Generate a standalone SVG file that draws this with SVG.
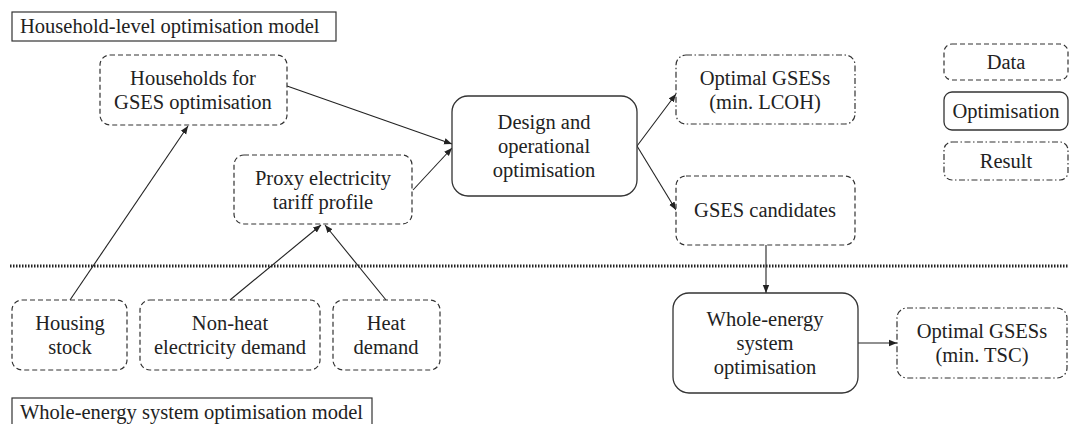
<svg xmlns="http://www.w3.org/2000/svg" width="1070" height="424" viewBox="0 0 1070 424">
  <style>
    text { font-family: 'Liberation Serif', 'Times New Roman', serif; font-size: 20.5px; fill: #222; text-anchor: middle; }
    .title { text-anchor: start; }
    .frame { fill: #fff; stroke: #333; stroke-width: 1.2; }
    .data { fill: #fff; stroke: #333; stroke-width: 1.2; stroke-dasharray: 5 3; }
    .opt { fill: #fff; stroke: #333; stroke-width: 1.3; }
    .result { fill: #fff; stroke: #333; stroke-width: 1.2; stroke-dasharray: 6 2.5 1.5 2.5; }
    .link { fill: none; stroke: #222; stroke-width: 1.1; marker-end: url(#arrow); }
    .divider { fill: none; stroke: #222; stroke-width: 3; stroke-dasharray: 1.5 1.5; }
  </style>
  <defs>
    <marker id="arrow" viewBox="0 0 10 10" refX="10" refY="5" markerWidth="8" markerHeight="8" markerUnits="userSpaceOnUse" orient="auto">
      <path d="M0,1 L10,5 L0,9 z" fill="#222"/>
    </marker>
  </defs>

  <rect width="1070" height="424" fill="#fff"/>

  <!-- divider between the two model levels -->
  <line class="divider" x1="10" y1="266" x2="1068" y2="266"/>

  <!-- connectors -->
  <g id="connectors">
    <line class="link" x1="70" y1="300" x2="188" y2="126"/>
    <line class="link" x1="230" y1="300" x2="321" y2="225"/>
    <line class="link" x1="386" y1="300" x2="325" y2="225"/>
    <line class="link" x1="287" y1="86" x2="452" y2="144"/>
    <line class="link" x1="413" y1="190" x2="452" y2="148"/>
    <line class="link" x1="637" y1="146" x2="676" y2="94"/>
    <line class="link" x1="637" y1="146" x2="676" y2="210"/>
    <line class="link" x1="766" y1="245" x2="766" y2="293"/>
    <line class="link" x1="858" y1="343" x2="897" y2="343"/>
  </g>

  <!-- section titles -->
  <g id="title-household">
    <rect class="frame" x="12" y="12" width="324" height="29"/>
    <text class="title" x="20" y="33">Household-level optimisation model</text>
  </g>
  <g id="title-whole-energy">
    <rect class="frame" x="12" y="398" width="360" height="30"/>
    <text class="title" x="20" y="419">Whole-energy system optimisation model</text>
  </g>

  <!-- household-level nodes -->
  <g id="households">
    <rect class="data" x="100" y="55" width="187" height="70" rx="10"/>
    <text x="193" y="85">Households for</text>
    <text x="193" y="109">GSES optimisation</text>
  </g>
  <g id="proxy-tariff">
    <rect class="data" x="234" y="155" width="178" height="69" rx="10"/>
    <text x="323" y="185">Proxy electricity</text>
    <text x="323" y="209">tariff profile</text>
  </g>
  <g id="design-optimisation">
    <rect class="opt" x="452" y="96" width="185" height="100" rx="16"/>
    <text x="544" y="129">Design and</text>
    <text x="544" y="153">operational</text>
    <text x="544" y="177">optimisation</text>
  </g>
  <g id="optimal-lcoh">
    <rect class="result" x="676" y="55" width="179" height="69" rx="10"/>
    <text x="765" y="85">Optimal GSESs</text>
    <text x="765" y="109">(min. LCOH)</text>
  </g>
  <g id="gses-candidates">
    <rect class="data" x="676" y="176" width="179" height="69" rx="10"/>
    <text x="765" y="217">GSES candidates</text>
  </g>

  <!-- whole-energy system nodes -->
  <g id="housing-stock">
    <rect class="data" x="12" y="300" width="115" height="70" rx="10"/>
    <text x="70" y="330">Housing</text>
    <text x="70" y="354">stock</text>
  </g>
  <g id="non-heat-demand">
    <rect class="data" x="140" y="300" width="180" height="70" rx="10"/>
    <text x="230" y="330">Non-heat</text>
    <text x="230" y="354">electricity demand</text>
  </g>
  <g id="heat-demand">
    <rect class="data" x="333" y="300" width="107" height="70" rx="10"/>
    <text x="386" y="330">Heat</text>
    <text x="386" y="354">demand</text>
  </g>
  <g id="whole-energy-optimisation">
    <rect class="opt" x="673" y="293" width="185" height="100" rx="16"/>
    <text x="765" y="326">Whole-energy</text>
    <text x="765" y="350">system</text>
    <text x="765" y="374">optimisation</text>
  </g>
  <g id="optimal-tsc">
    <rect class="result" x="897" y="308" width="170" height="70" rx="10"/>
    <text x="982" y="338">Optimal GSESs</text>
    <text x="982" y="362">(min. TSC)</text>
  </g>

  <!-- legend -->
  <g id="legend-data">
    <rect class="data" x="944" y="44" width="124" height="36" rx="8"/>
    <text x="1006" y="69">Data</text>
  </g>
  <g id="legend-optimisation">
    <rect class="opt" x="944" y="92" width="124" height="38" rx="8"/>
    <text x="1006" y="118">Optimisation</text>
  </g>
  <g id="legend-result">
    <rect class="result" x="944" y="142" width="124" height="38" rx="8"/>
    <text x="1006" y="168">Result</text>
  </g>
</svg>
